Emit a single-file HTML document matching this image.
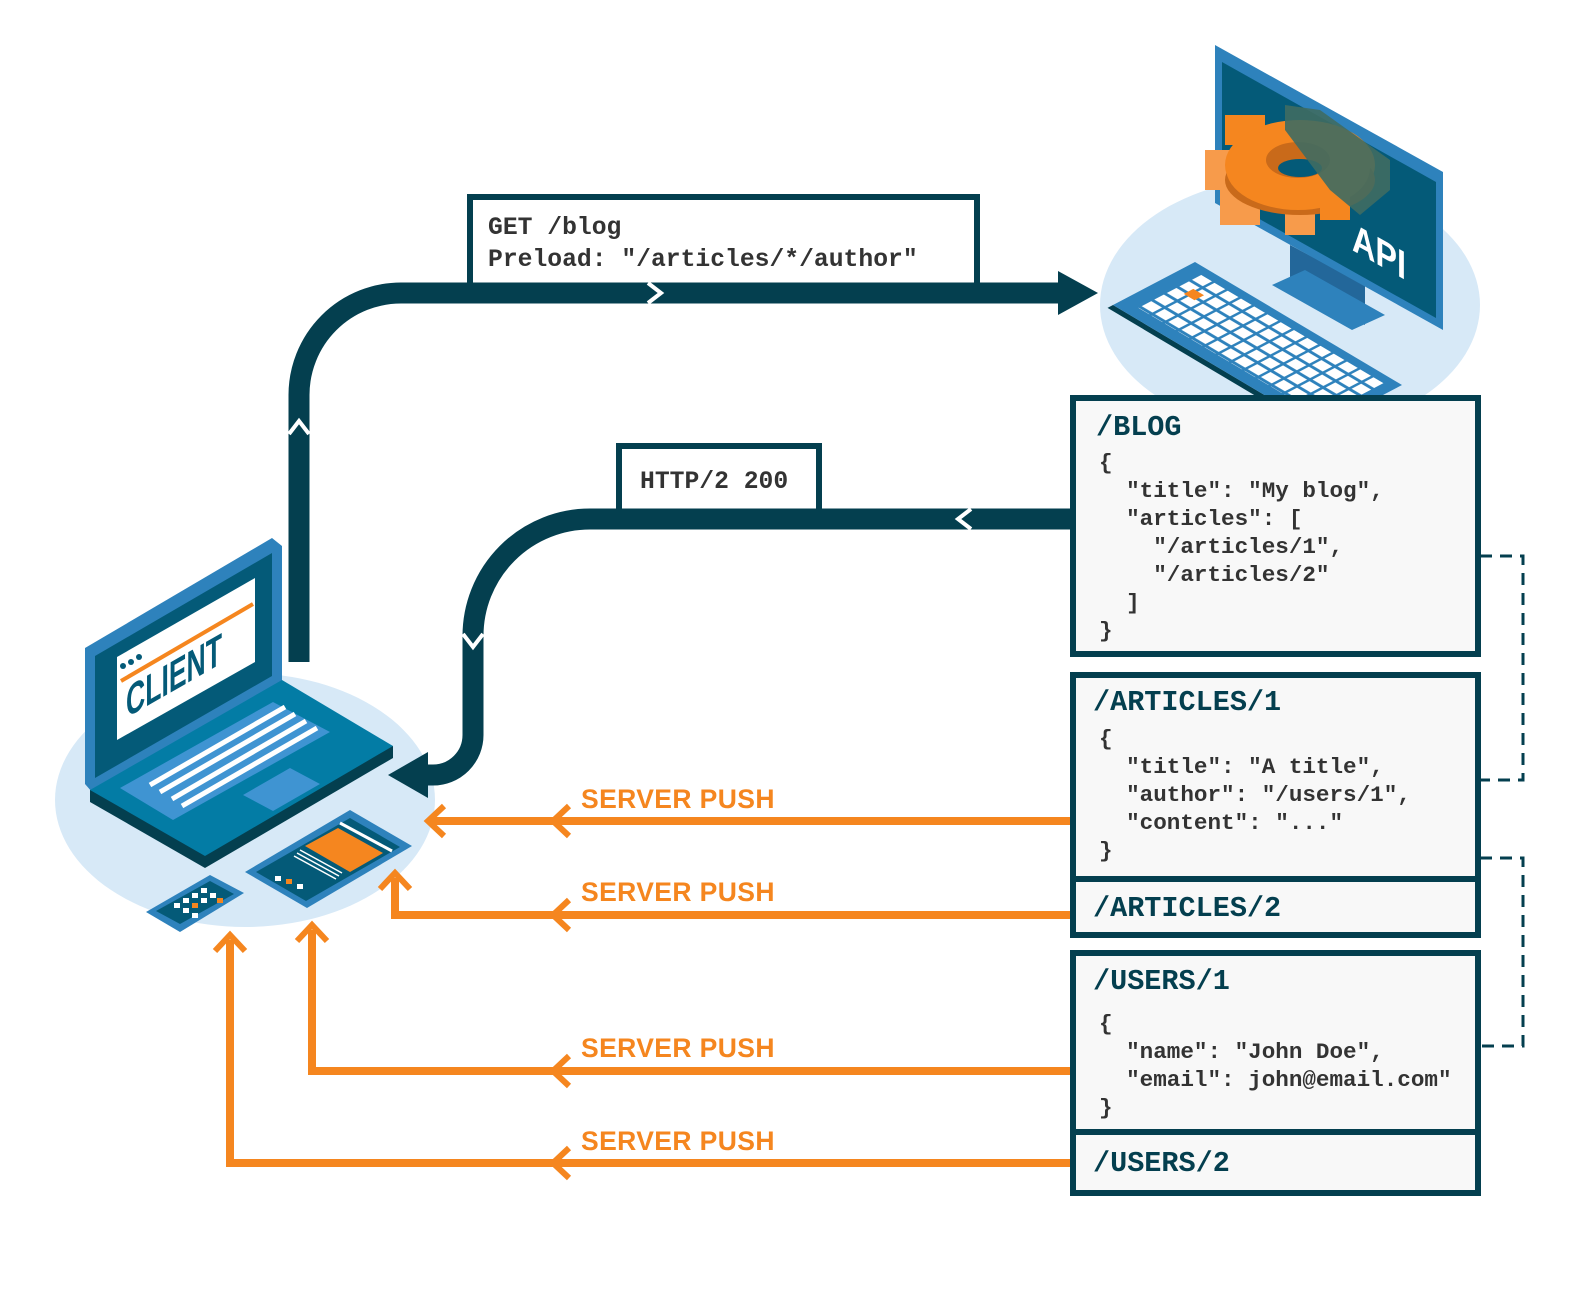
<!DOCTYPE html>
<html><head><meta charset="utf-8"><style>
html,body{margin:0;padding:0;background:#fff}
svg{display:block}
.m{font-family:"Liberation Mono","DejaVu Sans Mono",monospace;font-weight:bold}
.j{font-size:22.6px;fill:#333}
.t{font-size:28.5px;fill:#043f4f}
.sp{font-family:"Liberation Sans",sans-serif;font-weight:bold;font-size:26.5px;fill:#f5861f;letter-spacing:0.4px}
</style></head><body>
<svg width="1569" height="1312" viewBox="0 0 1569 1312" xmlns="http://www.w3.org/2000/svg">
<defs>
<pattern id="keys" x="0" y="0" width="6.4" height="4.6" patternUnits="userSpaceOnUse">
<rect x="0.6" y="0.6" width="5.2" height="3.5" fill="#fff"/>
</pattern>
</defs>

<!-- API illustration -->
<ellipse cx="1290" cy="305" rx="190" ry="128" fill="#d7e9f7"/>
<polygon points="1290,245 1365,285 1365,325 1290,285" fill="#23679a"/>
<polygon points="1272,285 1352,330 1385,315 1305,270" fill="#2e82bc"/>
<polygon points="1215,45 1443,172 1443,330 1215,203" fill="#2e82bc"/>
<polygon points="1222,62 1436,182 1436,318 1222,198" fill="#045a78"/>
<g>
<rect x="1205" y="150" width="32" height="40" fill="#f79b4b"/>
<rect x="1220" y="190" width="40" height="35" fill="#f79b4b"/>
<rect x="1285" y="210" width="30" height="25" fill="#f79b4b"/>
<rect x="1225" y="115" width="40" height="30" fill="#f5861f"/>
<ellipse cx="1300" cy="165" rx="75" ry="45" fill="#f5861f"/>
<ellipse cx="1300" cy="180" rx="75" ry="35" fill="#c96a1a"/>
<ellipse cx="1298" cy="168" rx="72" ry="42" fill="#f5861f"/>
<ellipse cx="1298" cy="160" rx="32" ry="18" fill="#c96a1a"/>
<ellipse cx="1300" cy="168" rx="22" ry="9" fill="#045a78"/>
<rect x="1320" y="195" width="30" height="25" fill="#f5861f"/>
</g>
<polygon points="1285,105 1320,110 1390,160 1390,190 1360,215 1330,190 1285,130" fill="#3f6b62" opacity="0.9"/>
<text transform="translate(1352,250) skewY(29.3)" font-family="Liberation Sans,sans-serif" font-weight="bold" font-size="40" fill="#fff" textLength="54" lengthAdjust="spacingAndGlyphs">API</text>
<g transform="matrix(2.07,1.23,2.733,-1.433,1113,305)">
<rect x="0" y="-2" width="100" height="2" fill="#043f4f"/>
<rect x="0" y="0" width="100" height="30" fill="#2e82bc"/>
<rect x="6" y="4" width="89" height="23" fill="url(#keys)"/>
<rect x="11.2" y="17.4" width="5.2" height="3.5" fill="#f5861f"/>
</g>

<!-- client illustration -->
<ellipse cx="245" cy="800" rx="190" ry="127" fill="#d7e9f7"/>
<polygon points="85,648 272,538 282,546 282,682 92,792 85,784" fill="#2e82bc"/>
<polygon points="95,656 272,553 272,676 95,778" fill="#045a78"/>
<polygon points="117,657 255,578 255,662 117,740" fill="#fff"/>
<line x1="121" y1="681" x2="253" y2="604" stroke="#f5861f" stroke-width="4"/>
<circle cx="123" cy="666" r="3" fill="#045a78"/><circle cx="131" cy="662" r="3" fill="#045a78"/><circle cx="139" cy="657" r="3" fill="#045a78"/>
<text transform="translate(126,718) skewY(-29.8)" font-family="Liberation Sans,sans-serif" font-weight="bold" font-size="44" fill="#045a78" textLength="96" lengthAdjust="spacingAndGlyphs">CLIENT</text>
<polygon points="90,790 90,802 205,868 393,758 393,746" fill="#043f4f"/>
<polygon points="90,790 282,680 393,746 205,856" fill="#037ca5"/>
<polygon points="120,788 273,702 330,732 173,820" fill="#3f94d2"/>
<g stroke="#fff" stroke-width="5">
<line x1="150" y1="785" x2="285" y2="707"/>
<line x1="160" y1="792" x2="295" y2="714"/>
<line x1="172" y1="799" x2="306" y2="721"/>
<line x1="182" y1="806" x2="317" y2="728"/>
</g>
<polygon points="243,795 290,768 320,784 273,811" fill="#3f94d2"/>
<polygon points="245,872 350,810 412,846 307,908" fill="#2e82bc"/>
<polygon points="256,872 350,818 400,847 306,901" fill="#045a78"/>
<polygon points="305,846 338,828 383,853 350,872" fill="#f5861f"/>
<line x1="340" y1="823" x2="392" y2="851" stroke="#fff" stroke-width="3"/>
<g stroke="#fff" stroke-width="1.5"><line x1="300" y1="850" x2="342" y2="873"/><line x1="297" y1="853" x2="339" y2="876"/><line x1="294" y1="856" x2="336" y2="879"/></g>
<rect x="275" y="876" width="6" height="5" fill="#fff"/><rect x="286" y="879" width="6" height="5" fill="#f5861f"/><rect x="297" y="884" width="6" height="5" fill="#fff"/>
<!-- phone -->
<polygon points="146,912 210,875 244,893 180,932" fill="#2e82bc"/>
<polygon points="156,911 210,881 234,894 180,924" fill="#045a78"/>
<g fill="#fff"><rect x="174" y="903" width="6" height="5"/><rect x="183" y="898" width="6" height="5"/><rect x="192" y="893" width="6" height="5"/><rect x="201" y="888" width="6" height="5"/><rect x="183" y="908" width="6" height="5"/><rect x="201" y="898" width="6" height="5"/><rect x="192" y="913" width="6" height="5"/><rect x="210" y="893" width="6" height="5"/></g>
<rect x="192" y="903" width="6" height="5" fill="#f5861f"/><rect x="217" y="898" width="6" height="5" fill="#f5861f"/>

<!-- request arrow -->
<rect x="470" y="197" width="507" height="90" fill="#fff" stroke="#043f4f" stroke-width="6"/>
<text class="m" font-size="24.7" fill="#333" x="488" y="234">GET /blog</text>
<text class="m" font-size="24.7" fill="#333" x="488" y="266">Preload: "/articles/*/author"</text>
<path d="M299 662 V395 A102 102 0 0 1 401 293 H1062" fill="none" stroke="#043f4f" stroke-width="21"/>
<polygon points="1058,271 1098,293 1058,315" fill="#043f4f"/>
<polyline points="648,283 661,293 648,303" fill="none" stroke="#fff" stroke-width="4"/>
<polyline points="289,434 299,421 309,434" fill="none" stroke="#fff" stroke-width="4"/>

<!-- response arrow -->
<rect x="619" y="446" width="200" height="66" fill="#fff" stroke="#043f4f" stroke-width="6"/>
<text class="m" font-size="24.7" fill="#333" x="640" y="488">HTTP/2 200</text>
<path d="M1072 519 H590 A117 117 0 0 0 473 636 V735 A40 40 0 0 1 433 775 H420" fill="none" stroke="#043f4f" stroke-width="21"/>
<polygon points="428,752 388,775 428,798" fill="#043f4f"/>
<polyline points="971,509 958,519 971,529" fill="none" stroke="#fff" stroke-width="4"/>
<polyline points="463,634 473,647 483,634" fill="none" stroke="#fff" stroke-width="4"/>

<!-- server push lines -->
<g fill="none" stroke="#f5861f" stroke-width="8">
<path d="M1070 821 H432"/>
<path d="M1070 915 H395 V878"/>
<path d="M1070 1071 H312 V930"/>
<path d="M1070 1163 H230 V940"/>
<g stroke-width="6">
<polyline points="444,806 428,821 444,836"/>
<polyline points="569,806 553,821 569,836"/>
<polyline points="569,900 553,915 569,930"/>
<polyline points="569,1056 553,1071 569,1086"/>
<polyline points="569,1148 553,1163 569,1178"/>
<polyline points="380,889 395,873 410,889"/>
<polyline points="297,941 312,925 327,941"/>
<polyline points="215,951 230,935 245,951"/>
</g>
</g>
<text class="sp" x="581" y="808">SERVER PUSH</text>
<text class="sp" x="581" y="901">SERVER PUSH</text>
<text class="sp" x="581" y="1057">SERVER PUSH</text>
<text class="sp" x="581" y="1150">SERVER PUSH</text>

<g fill="none" stroke="#043f4f" stroke-width="3" stroke-dasharray="12 8">
<path d="M1480 556 H1523 V780 H1480"/>
<path d="M1480 858 H1523 V1046 H1480"/>
</g>

<g fill="#f8f8f8" stroke="#043f4f" stroke-width="6">
<rect x="1073" y="398" width="405" height="256"/>
<rect x="1073" y="675" width="405" height="204"/>
<rect x="1073" y="879" width="405" height="56"/>
<rect x="1073" y="953" width="405" height="179"/>
<rect x="1073" y="1132" width="405" height="61"/>
</g>
<text class="m t" x="1096" y="435">/BLOG</text>
<g class="m j">
<text x="1099" y="469">{</text>
<text x="1099" y="497" xml:space="preserve">  "title": "My blog",</text>
<text x="1099" y="525" xml:space="preserve">  "articles": [</text>
<text x="1099" y="553" xml:space="preserve">    "/articles/1",</text>
<text x="1099" y="581" xml:space="preserve">    "/articles/2"</text>
<text x="1099" y="609" xml:space="preserve">  ]</text>
<text x="1099" y="637">}</text>
</g>
<text class="m t" x="1093" y="710">/ARTICLES/1</text>
<g class="m j">
<text x="1099" y="745">{</text>
<text x="1099" y="773" xml:space="preserve">  "title": "A title",</text>
<text x="1099" y="801" xml:space="preserve">  "author": "/users/1",</text>
<text x="1099" y="829" xml:space="preserve">  "content": "..."</text>
<text x="1099" y="857">}</text>
</g>
<text class="m t" x="1093" y="916">/ARTICLES/2</text>
<text class="m t" x="1093" y="989">/USERS/1</text>
<g class="m j">
<text x="1099" y="1030">{</text>
<text x="1099" y="1058" xml:space="preserve">  "name": "John Doe",</text>
<text x="1099" y="1086" xml:space="preserve">  "email": john@email.com"</text>
<text x="1099" y="1114">}</text>
</g>
<text class="m t" x="1093" y="1171">/USERS/2</text>
</svg>
</body></html>
